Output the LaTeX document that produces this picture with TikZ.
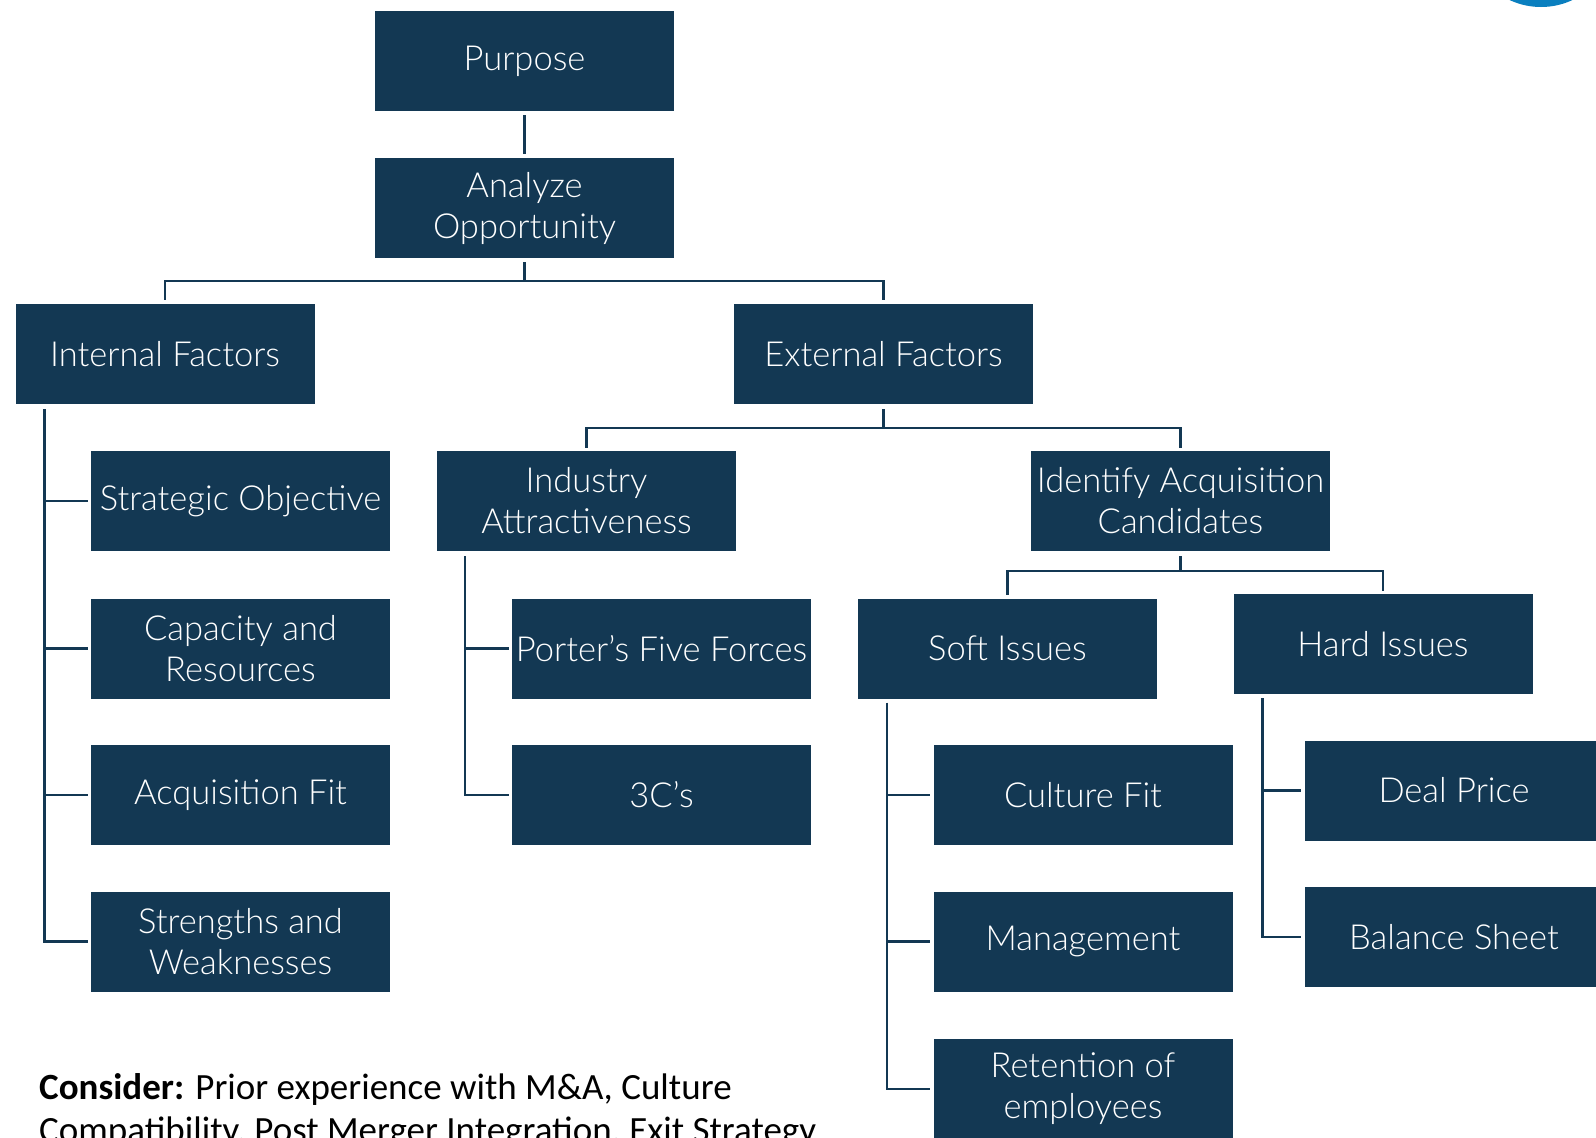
\documentclass[tikz,border=0pt]{standalone}
\usepackage{fontspec}
\setmainfont{Carlito}
\newfontfamily\boxfont{Lato Light}
\usetikzlibrary{calc}
\definecolor{navy}{HTML}{133853}
\definecolor{accentblue}{RGB}{10,127,191}
\begin{document}
\begin{tikzpicture}[x=1pt,y=-1pt,
  box/.style={fill=navy, draw=none, minimum width=299pt, minimum height=100pt, inner sep=0pt,
    text=white, align=center, font=\boxfont\fontsize{34.5}{41}\selectfont},
  conn/.style={draw=navy, line width=2.6pt},
  note/.style={anchor=base west, inner sep=0pt, text=black, font=\fontsize{37}{43}\selectfont}]
\useasboundingbox (0,0) rectangle (1596,1138);
\clip (0,0) rectangle (1596,1138);
\fill[white] (0,0) rectangle (1596,1138);
\fill[accentblue] (1541,-67) circle (74);

\node[box] (purpose) at (524.5,61) {Purpose};
\node[box] (analyze) at (524.5,208) {Analyze\\Opportunity};
\node[box] (internal) at (165,354) {Internal Factors};
\node[box] (external) at (883.5,354) {External Factors};
\node[box] (strategic) at (240.5,501) {Strategic Objective};
\node[box] (capacity) at (240.5,648.5) {Capacity and\\Resources};
\node[box] (acqfit) at (240.5,795) {Acquisition Fit};
\node[box] (strengths) at (240.5,941.5) {Strengths and\\Weaknesses};
\node[box] (industry) at (586.5,501) {Industry\\Attractiveness};
\node[box] (identify) at (1180.5,501) {Identify Acquisition\\Candidates};
\node[box] (porter) at (661.5,648.5) {Porter’s Five Forces};
\node[box] (threec) at (661.5,795) {3C’s};
\node[box] (soft) at (1007.5,648.5) {Soft Issues};
\node[box] (hard) at (1383,644) {Hard Issues};
\node[box] (culture) at (1083,795) {Culture Fit};
\node[box] (management) at (1083,941.5) {Management};
\node[box] (retention) at (1083,1089) {Retention of\\employees};
\node[box] (dealprice) at (1454,790.5) {Deal Price};
\node[box] (balance) at (1454,937) {Balance Sheet};

\node[note] (consider1) at (39,1099) {\textbf{Consider:} Prior experience with M\&A, Culture};
\node[note] (consider2) at (39,1142) {Compatibility, Post Merger Integration, Exit Strategy};

% top connectors
\draw[conn] ($(purpose.south)+(0,4)$) -- ($(analyze.north)+(0,-4)$);
\draw[conn] ($(analyze.south)+(0,4)$) -- (analyze.south |- 0,281) -| ($(internal.north)+(0,-4)$);
\draw[conn] (analyze.south |- 0,281) -| ($(external.north)+(0,-4)$);

% internal
\coordinate (intv) at ($(internal.south west)+(29,5)$);
\draw[conn] (intv) |- ($(strengths.west)+(-3,0)$);
\foreach \n in {strategic,capacity,acqfit}{
  \draw[conn] (intv |- \n.west) -- ($(\n.west)+(-3,0)$);
}

% external
\draw[conn] ($(external.south)+(0,5)$) -- (external.south |- 0,428) -| ($(industry.north)+(0,-3)$);
\draw[conn] (external.south |- 0,428) -| ($(identify.north)+(0,-3)$);

% industry
\coordinate (indv) at ($(industry.south west)+(28,5)$);
\draw[conn] (indv) |- ($(threec.west)+(-3,0)$);
\draw[conn] (indv |- porter.west) -- ($(porter.west)+(-3,0)$);

% identify
\draw[conn] ($(identify.south)+(0,5)$) -- (identify.south |- 0,571) -| ($(soft.north)+(0,-3)$);
\draw[conn] (identify.south |- 0,571) -| ($(hard.north)+(0,-3)$);

% soft
\coordinate (softv) at ($(soft.south west)+(29,4)$);
\draw[conn] (softv) |- ($(retention.west)+(-3,0)$);
\foreach \n in {culture,management}{
  \draw[conn] (softv |- \n.west) -- ($(\n.west)+(-3,0)$);
}

% hard
\coordinate (hardv) at ($(hard.south west)+(29,4)$);
\draw[conn] (hardv) |- ($(balance.west)+(-3,0)$);
\draw[conn] (hardv |- dealprice.west) -- ($(dealprice.west)+(-3,0)$);
\end{tikzpicture}
\end{document}
